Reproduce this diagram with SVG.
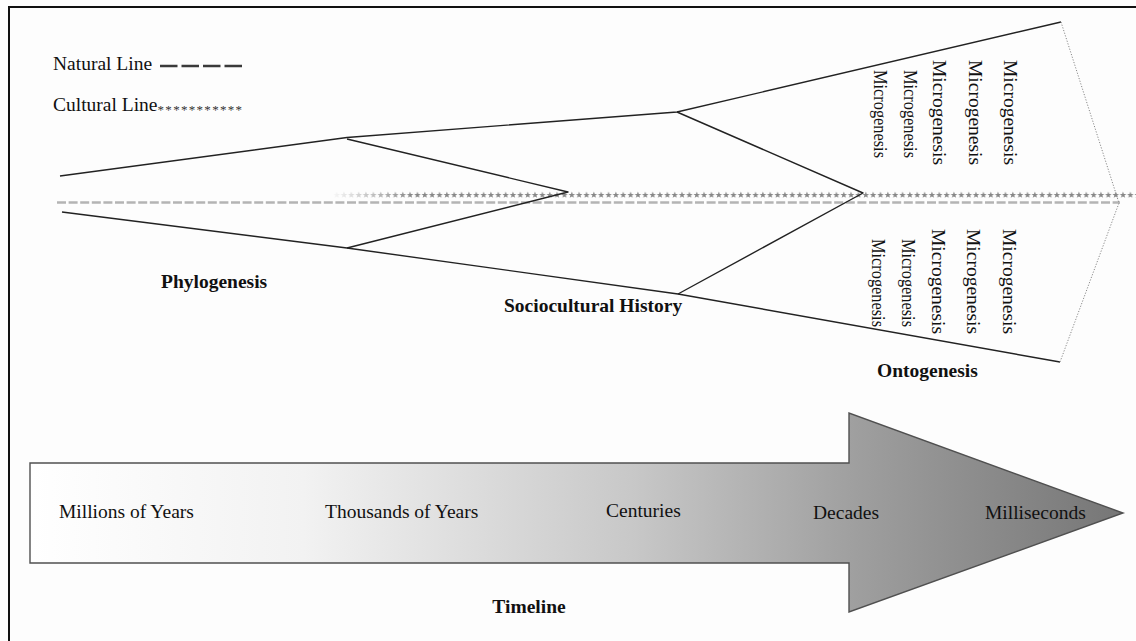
<svg xmlns="http://www.w3.org/2000/svg" width="1136" height="641" viewBox="0 0 1136 641">
  <style>
    .t { font-family: "Liberation Serif", "Times New Roman", serif; font-size: 19.5px; fill: #111; }
    .b { font-family: "Liberation Serif", "Times New Roman", serif; font-size: 19.5px; font-weight: bold; fill: #111; }
    .solid { fill: none; stroke: #222; stroke-width: 1.4; stroke-linejoin: round; }
    .dotted { fill: none; stroke: #8a8a8a; stroke-width: 1; stroke-dasharray: 1.2 1.6; }
    .natural { fill: none; stroke: #b4b4b4; stroke-width: 2.6; stroke-dasharray: 9 2.6; }
  </style>
  <defs>
    <!-- small five-pointed stars that make up the cultural line -->
    <pattern id="stars" x="333" y="189" width="7.35" height="12" patternUnits="userSpaceOnUse">
      <polygon points="3.6,2.6 4.45,4.9 6.9,4.95 4.95,6.45 5.7,8.8 3.6,7.4 1.5,8.8 2.25,6.45 0.3,4.95 2.75,4.9" fill="#878787"/>
    </pattern>
    <linearGradient id="fadeIn" gradientUnits="userSpaceOnUse" x1="333" y1="0" x2="412" y2="0">
      <stop offset="0" stop-color="#fff" stop-opacity="0.05"/>
      <stop offset="1" stop-color="#fff" stop-opacity="1"/>
    </linearGradient>
    <mask id="culturalMask" maskUnits="userSpaceOnUse" x="320" y="185" width="830" height="20">
      <rect x="320" y="185" width="830" height="20" fill="url(#fadeIn)"/>
    </mask>
    <linearGradient id="timeFill" gradientUnits="userSpaceOnUse" x1="30" y1="0" x2="1123" y2="0">
      <stop offset="0" stop-color="#ffffff"/>
      <stop offset="0.25" stop-color="#f2f2f2"/>
      <stop offset="0.55" stop-color="#c8c8c8"/>
      <stop offset="0.76" stop-color="#9e9e9e"/>
      <stop offset="1" stop-color="#767676"/>
    </linearGradient>
  </defs>

  <rect x="0" y="0" width="1136" height="641" fill="#fdfdfd"/>
  <!-- frame -->
  <rect x="9" y="7" width="1140" height="650" fill="none" stroke="#111" stroke-width="2"/>

  <!-- legend -->
  <g id="legend">
    <text class="t" x="53" y="70">Natural Line</text>
    <line x1="160" y1="66" x2="242" y2="66" stroke="#3a3a3a" stroke-width="2.6" stroke-dasharray="17.5 4"/>
    <text class="t" x="53" y="111">Cultural Line<tspan font-size="13" dy="3" letter-spacing="1.3" fill="#333">***********</tspan></text>
  </g>

  <!-- development lines -->
  <g id="connectors">
    <line class="natural" x1="57" y1="202.5" x2="1120" y2="202.5"/>
    <rect x="333" y="189" width="803" height="12" fill="url(#stars)" mask="url(#culturalMask)"/>
    <!-- outer envelope -->
    <polyline class="solid" points="60,176 347,137.5 677,112 1061,22"/>
    <polyline class="solid" points="62,212 347,248 678,294 1060,362"/>
    <!-- inner branches -->
    <polyline class="solid" points="347,139 568,192 347,248"/>
    <polyline class="solid" points="677,112 863,193 678,294"/>
    <!-- dotted closing tip -->
    <polyline class="dotted" points="1061,22 1119,203 1060,362"/>
  </g>

  <!-- stage labels -->
  <g id="phylogenesis"><text class="b" x="161" y="288">Phylogenesis</text></g>
  <g id="sociocultural-history"><text class="b" x="504" y="312">Sociocultural History</text></g>
  <g id="ontogenesis"><text class="b" x="877" y="377">Ontogenesis</text></g>

  <!-- microgenesis columns above the axis -->
  <g id="microgenesis-upper">
    <text class="t" transform="translate(1004,60) rotate(90)">Microgenesis</text>
    <text class="t" transform="translate(969,60) rotate(90)">Microgenesis</text>
    <text class="t" transform="translate(933,60) rotate(90)">Microgenesis</text>
    <text class="t" transform="translate(904,70) rotate(90)" textLength="88" lengthAdjust="spacingAndGlyphs">Microgenesis</text>
    <text class="t" transform="translate(874,70) rotate(90)" textLength="88" lengthAdjust="spacingAndGlyphs">Microgenesis</text>
  </g>
  <!-- microgenesis columns below the axis -->
  <g id="microgenesis-lower">
    <text class="t" transform="translate(1003,229) rotate(90)">Microgenesis</text>
    <text class="t" transform="translate(967,229) rotate(90)">Microgenesis</text>
    <text class="t" transform="translate(932,229) rotate(90)">Microgenesis</text>
    <text class="t" transform="translate(902,239) rotate(90)" textLength="88" lengthAdjust="spacingAndGlyphs">Microgenesis</text>
    <text class="t" transform="translate(872,239) rotate(90)" textLength="88" lengthAdjust="spacingAndGlyphs">Microgenesis</text>
  </g>

  <!-- timeline arrow -->
  <g id="timeline">
    <polygon points="30,463 849,463 849,413 1123,513 849,612 849,563 30,563" fill="url(#timeFill)" stroke="#505050" stroke-width="1.4" stroke-linejoin="miter"/>
    <text class="t" x="59" y="518">Millions of Years</text>
    <text class="t" x="325" y="518">Thousands of Years</text>
    <text class="t" x="606" y="517">Centuries</text>
    <text class="t" x="813" y="519">Decades</text>
    <text class="t" x="985" y="519">Milliseconds</text>
    <text class="b" x="529" y="613" text-anchor="middle">Timeline</text>
  </g>
</svg>
